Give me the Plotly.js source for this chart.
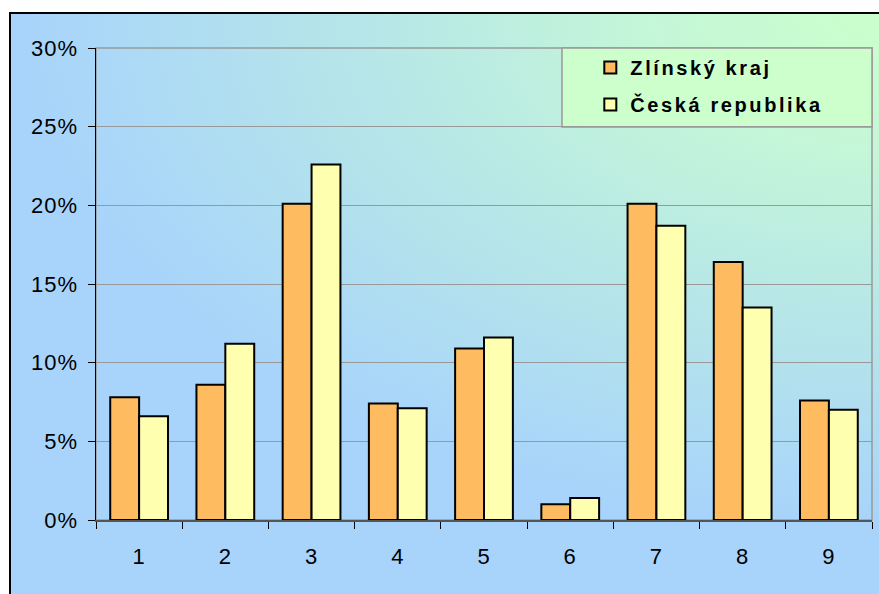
<!DOCTYPE html>
<html>
<head>
<meta charset="utf-8">
<script src="https://cdn.plot.ly/plotly-3.0.1.min.js"></script>
<style>
html,body{margin:0;padding:0;background:#fff;width:879px;height:594px;overflow:hidden;}
#bg{position:absolute;left:9px;top:12px;width:900px;height:620px;border:2px solid #000;box-sizing:border-box;
background:radial-gradient(ellipse 950px 560px at 870px 0px,#ccffcc 0%,#c4f6d8 25%,#b6e6e8 55%,#a8d4fb 90%,#a8d4fb 100%);}
#chart{position:absolute;left:0;top:0;width:879px;height:594px;}
#chart .legendtext{letter-spacing:2.6px;}
#chart .legend .scrollbox{clip-path:none !important;}
#chart .xtick text, #chart .ytick text{letter-spacing:1px;}
</style>
</head>
<body>
<div id="bg"></div>
<div id="chart"></div>
<script>
const categories = ['1','2','3','4','5','6','7','8','9'];
const zlinsky = [0.078, 0.086, 0.201, 0.074, 0.109, 0.010, 0.201, 0.164, 0.076];
const ceska = [0.066, 0.112, 0.226, 0.071, 0.116, 0.014, 0.187, 0.135, 0.070];
const seriesNames = ['Zlínský kraj', 'Česká republika'];
const yTicks = [0, 0.05, 0.10, 0.15, 0.20, 0.25, 0.30];

const font = 'Liberation Sans, Arial, sans-serif';
const data = [
  {type:'bar', x:categories, y:zlinsky, name:seriesNames[0], legendgroup:'a',
   marker:{color:'#FFBB60', line:{color:'#000', width:2}}},
  {type:'bar', x:categories, y:ceska, name:seriesNames[1], legendgroup:'b',
   marker:{color:'#FFFFB0', line:{color:'#000', width:2}}}
];
const layout = {
  width:879, height:594,
  margin:{l:96, r:7, t:48, b:74},
  paper_bgcolor:'rgba(0,0,0,0)', plot_bgcolor:'rgba(0,0,0,0)',
  barmode:'group', bargap:0.33, bargroupgap:0,
  font:{family:font, size:22, color:'#000'},
  xaxis:{type:'category', tickson:'boundaries', ticks:'outside', ticklen:7, tickcolor:'#000', tickwidth:1,
    showline:true, linecolor:'#555', linewidth:1.5, showgrid:false, ticklabelstandoff:16,
    tickfont:{family:font, size:22}},
  yaxis:{range:[0,0.3], tickvals:yTicks, tickformat:'.0%', ticks:'outside', ticklen:7, tickcolor:'#000',
    showline:true, linecolor:'#000', linewidth:1.5, showgrid:true, gridcolor:'#999', gridwidth:1,
    zeroline:false, ticklabelstandoff:5, tickfont:{family:font, size:22}},
  showlegend:true,
  legend:{x:0.637, y:1.0, xanchor:'left', yanchor:'top', bgcolor:'rgba(0,0,0,0)', borderwidth:0,
    font:{family:font, size:20, weight:'bold'}, traceorder:'grouped', tracegroupgap:8, itemwidth:30},
  shapes:[
    {type:'rect', xref:'paper', yref:'paper', x0:0, x1:1, y0:0, y1:1, line:{color:'#999', width:1.5}, layer:'below'},
    {type:'rect', xref:'paper', yref:'paper', x0:0.6005, x1:1, y0:0.8326, y1:1, fillcolor:'#ccffcc', line:{color:'#999', width:1.5}, layer:'below'}
  ]
};
Plotly.newPlot('chart', data, layout, {displayModeBar:false, staticPlot:true});
</script>
</body>
</html>
